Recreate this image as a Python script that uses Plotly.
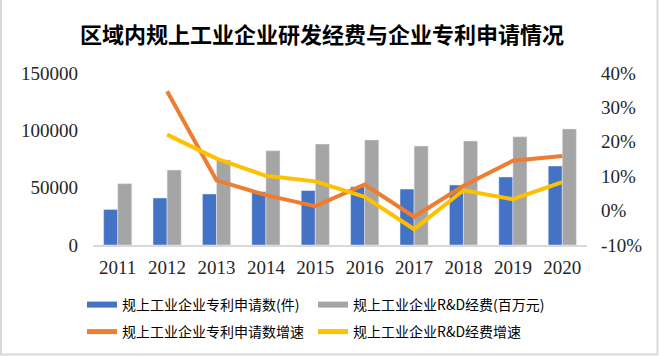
import plotly.graph_objects as go

years = ["2011", "2012", "2013", "2014", "2015", "2016", "2017", "2018", "2019", "2020"]
patents = [31000, 41000, 44500, 46500, 47500, 50800, 48800, 52300, 59300, 68900]
rd_spend = [53500, 65400, 74200, 82200, 88000, 91600, 86300, 90700, 94300, 101200]
patent_growth = [None, 34.7, 8.8, 4.5, 1.3, 7.6, -1.8, 7.2, 14.5, 15.9]
rd_growth = [None, 22.1, 15.1, 10.1, 8.5, 4.0, -5.4, 5.9, 3.3, 8.3]

left_ticks = [0, 50000, 100000, 150000]
right_ticks = [-10, 0, 10, 20, 30, 40]
right_labels = ["-10%", "0%", "10%", "20%", "30%", "40%"]

names = ["规上工业企业专利申请数(件)", "规上工业企业R&D经费(百万元)",
         "规上工业企业专利申请数增速", "规上工业企业R&D经费增速"]
colors = ["#4472C4", "#A5A5A5", "#ED7D31", "#FFC000"]

W, H = 659, 356
L, R, T, B = 93, 72, 73, 111
pw, ph = W - L - R, H - T - B

fig = go.Figure()
fig.add_trace(go.Bar(x=years, y=patents, marker_color=colors[0], showlegend=False, name=names[0]))
fig.add_trace(go.Bar(x=years, y=rd_spend, marker_color=colors[1], showlegend=False, name=names[1]))
fig.add_trace(go.Scatter(x=years, y=patent_growth, yaxis="y2", mode="lines",
                         line=dict(color=colors[2], width=4), showlegend=False, name=names[2]))
fig.add_trace(go.Scatter(x=years, y=rd_growth, yaxis="y2", mode="lines",
                         line=dict(color=colors[3], width=4), showlegend=False, name=names[3]))

legend_ids = ["legend", "legend2", "legend3", "legend4"]
legend_pos = [(82, 305), (313, 305), (82, 332), (313, 332)]

# legend entries (wide swatches)
for i, (n, c) in enumerate(zip(names, colors)):
    fig.add_trace(go.Scatter(x=[None], y=[None], mode="lines", name=n,
                             line=dict(color=c, width=6 if i < 2 else 5),
                             legend=legend_ids[i]))

def px_x(p):
    return (p - L) / pw

def px_y(p):
    return (H - B - p) / ph

legend_common = dict(orientation="h", xref="container", yref="container",
                     font=dict(family="Noto Sans CJK SC", size=14, color="#000000"),
                     bgcolor="rgba(0,0,0,0)", itemwidth=30, xanchor="left", yanchor="middle")

layout_legends = {}
for lid, (lx, ly) in zip(legend_ids, legend_pos):
    layout_legends[lid] = dict(**legend_common, x=lx / W, y=1 - ly / H)

tick_font = dict(family="Liberation Serif", size=19, color="#262626")

fig.update_layout(
    width=W, height=H,
    margin=dict(l=L, r=R, t=T, b=B),
    paper_bgcolor="white", plot_bgcolor="white",
    barmode="group", bargap=0.43, bargroupgap=0,
    title=dict(text="<b>区域内规上工业企业研发经费与企业专利申请情况</b>",
               x=322 / W, xanchor="center", y=1 - 35 / H, yanchor="middle",
               font=dict(family="Noto Sans CJK SC", size=22, color="#000000")),
    xaxis=dict(type="category", showline=True, linecolor="#D9D9D9", linewidth=2,
               ticks="", showgrid=False, tickfont=tick_font, ticklabelstandoff=4),
    yaxis=dict(range=[0, 150000], tickvals=left_ticks, ticktext=[str(v) for v in left_ticks],
               showgrid=False, zeroline=False, showline=False, ticks="", tickfont=tick_font,
               ticklabelstandoff=14),
    yaxis2=dict(range=[-10, 40], overlaying="y", side="right", tickvals=right_ticks,
                ticktext=right_labels, showgrid=False, zeroline=False, showline=False, ticks="",
                tickfont=tick_font, ticklabelstandoff=13),
    shapes=[dict(type="rect", xref="paper", yref="paper",
                 x0=px_x(1), x1=px_x(W - 1.5), y0=px_y(H - 1.5), y1=px_y(-5),
                 line=dict(color="#D9D9D9", width=2), fillcolor="rgba(0,0,0,0)", layer="below")],
    **layout_legends,
)

fig.write_html("out.html", config={"displayModeBar": False},
               post_script="document.body.style.margin='0';document.body.style.overflow='hidden';")
